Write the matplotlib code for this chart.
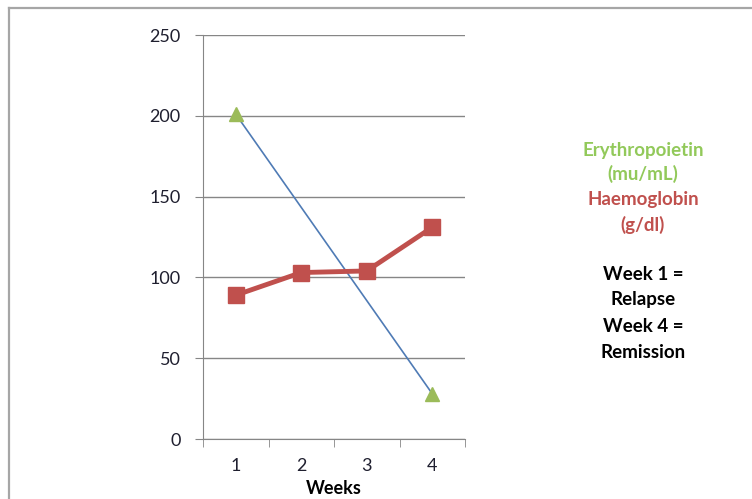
import matplotlib
matplotlib.use('Agg')
import matplotlib.pyplot as plt
import numpy as np

# donnees
weeks = [1, 2, 3, 4]
epo = [201, None, None, 28]          # Erythropoietin (mu/mL), semaines 2 et 3 manquantes
hb = [89, 103, 104, 131]             # Haemoglobin (g/dl)
yticks = [0, 50, 100, 150, 200, 250]
notes = ['Week 1 =', 'Relapse', 'Week 4 =', 'Remission']

plt.rcParams['font.family'] = ['Lato', 'DejaVu Sans']

fig = plt.figure(figsize=(7.52, 4.99), dpi=100)
ax = fig.add_axes([203/752, 1-439/499, (465-203)/752, (439-35)/499])

# cadre exterieur du graphique (style Excel)
fig.add_artist(plt.Line2D([9/752, 9/752], [0, 1-8/499], transform=fig.transFigure, color='#a6a6a6', lw=1.6))
fig.add_artist(plt.Line2D([9/752, 1], [1-8/499, 1-8/499], transform=fig.transFigure, color='#a6a6a6', lw=1.6))

ex = [w for w, v in zip(weeks, epo) if v is not None]
ey = [v for v in epo if v is not None]
ax.plot(ex, ey, color='#4f7bb5', lw=1.2, zorder=3)
ax.plot(ex, ey, linestyle='none', marker='^', markersize=10, color='#9bbb59', zorder=4)
ax.plot(weeks, hb, color='#c0504d', lw=3.5, marker='s', markersize=11, zorder=5)

ax.set_xlim(0.5, 4.5)
ax.set_ylim(0, 250)
ax.set_yticks(yticks)
ax.set_xticks(weeks)
ax.set_xticks([0.5, 1.5, 2.5, 3.5, 4.5], minor=True)
ax.tick_params(axis='x', which='major', length=0, pad=14, labelsize=13, labelcolor='#1f1f2f')
ax.tick_params(axis='x', which='minor', length=6, color='#868686', direction='out')
ax.tick_params(axis='y', length=6, color='#868686', pad=10, labelsize=13, labelcolor='#1f1f2f')
ax.yaxis.grid(True, color='#868686', lw=1)
ax.set_axisbelow(True)
for s in ['top', 'right']:
    ax.spines[s].set_visible(False)
for s in ['left', 'bottom']:
    ax.spines[s].set_color('#868686')
ax.set_xlabel('Weeks', fontsize=13, fontweight='bold', labelpad=4)

# legende en texte a droite
fs = 13.5
fig.text(643/752, 1-150/499, 'Erythropoietin', color='#92c95a', fontsize=fs, fontweight='bold', ha='center', va='center')
fig.text(643/752, 1-174/499, '(mu/mL)', color='#92c95a', fontsize=fs, fontweight='bold', ha='center', va='center')
fig.text(643/752, 1-199/499, 'Haemoglobin', color='#c0504d', fontsize=fs, fontweight='bold', ha='center', va='center')
fig.text(643/752, 1-225/499, '(g/dl)', color='#c0504d', fontsize=fs, fontweight='bold', ha='center', va='center')
ypos = [275, 300, 326, 352]
for t, yp in zip(notes, ypos):
    fig.text(643/752, 1-yp/499, t, color='black', fontsize=fs, fontweight='bold', ha='center', va='center')

fig.savefig('out.png', dpi=100, facecolor='white')
